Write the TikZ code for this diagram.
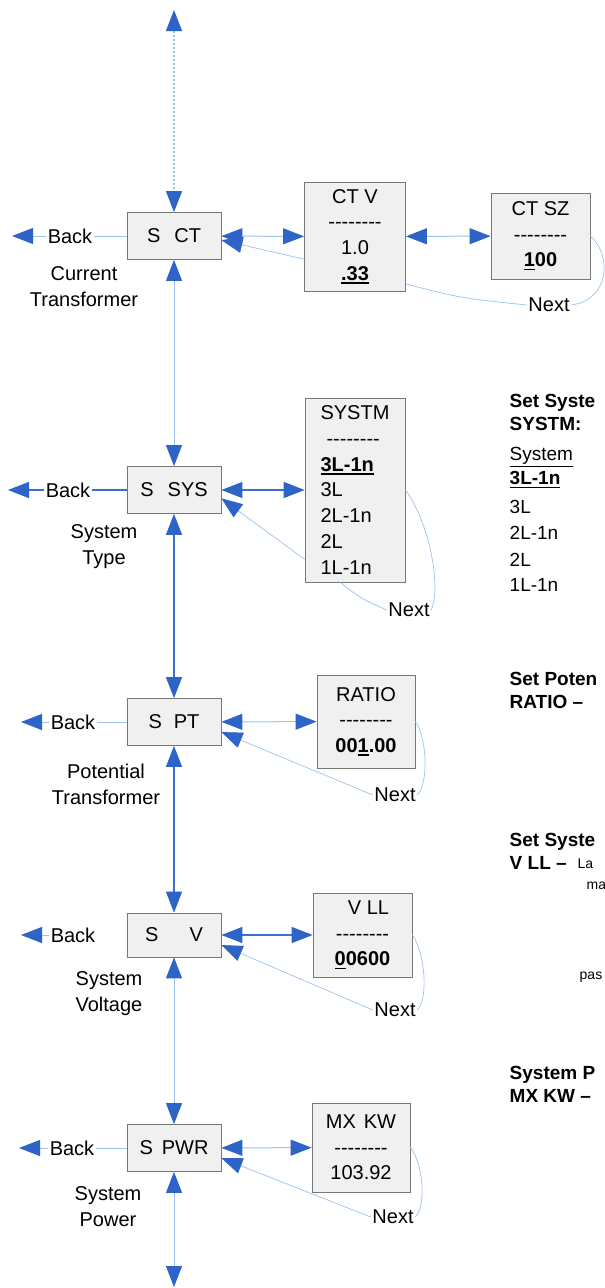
\documentclass[tikz,border=0pt]{standalone}
\usepackage{fontspec}
\setmainfont{Liberation Sans}
\usetikzlibrary{arrows.meta}
\definecolor{headblue}{HTML}{2E64C8}
\definecolor{lightblue}{HTML}{9CC2EE}
\definecolor{darkblue}{HTML}{3A6ED0}
\definecolor{boxline}{HTML}{777777}
\definecolor{boxfill}{HTML}{F0F0F0}
\newcommand{\dashrow}{-\kern0pt-\kern0pt-\kern0pt-\kern0pt-\kern0pt-\kern0pt-\kern0pt-}
\newcommand{\undl}[1]{\setbox0=\hbox{#1}\rlap{\rule[-3.4pt]{\wd0}{1.5pt}}\box0\relax}

\begin{document}
\begin{tikzpicture}[x=1pt,y=-1pt,>={Triangle[length=21pt,width=16pt,color=headblue]},
    every node/.style={font=\fontsize{20}{25.7}\selectfont,inner sep=1.5pt},
    menu/.style={draw=boxline,fill=boxfill,line width=0.8pt,minimum width=94pt,minimum height=47pt},
    val/.style={draw=boxline,fill=boxfill,line width=0.8pt,align=center},
    lbl/.style={align=center},
    rtext/.style={anchor=west,font=\fontsize{19}{22}\selectfont},
    smalltext/.style={anchor=west,font=\fontsize{14}{16}\selectfont},
    link/.style={lightblue,line width=1pt},
    dlink/.style={darkblue,line width=1.3pt},
    nextline/.style={lightblue,line width=0.7pt}]
    \path[fill=white,use as bounding box] (0,0) rectangle (605,1288);

    \node[menu] (sct) at (174,236) {S\hspace{14pt}CT};
    \node[menu] (ssys) at (174,490) {S\hspace{14pt}SYS};
    \node[menu] (spt) at (174,722) {S\hspace{12pt}PT};
    \node[menu,minimum height=44pt] (sv) at (174,935) {S\hspace{31pt}V};
    \node[menu] (spwr) at (174,1148) {S\hspace{9pt}PWR};

    \node[val,minimum width=101pt,minimum height=109pt] (ctv) at (355,236.5) {CT V\\\dashrow\\1.0\\\textbf{\undl{.33}}};
    \node[val,minimum width=99pt,minimum height=86pt] (ctsz) at (540.5,236) {CT SZ\\\dashrow\\\textbf{\undl{1}00}};
    \node[val,align=left,minimum width=100pt,minimum height=184pt] (systm) at (355,490) {SYSTM\\\hspace{6pt}\dashrow\\\textbf{\undl{3L-1n}}\\3L\\2L-1n\\2L\\1L-1n};
    \node[val,minimum width=98pt,minimum height=93pt] (ratio) at (366,721.5) {RATIO\\\dashrow\\\textbf{00\undl{1}.00}};
    \node[val,minimum width=99pt,minimum height=84pt] (vll) at (362.5,935) {\hspace{12pt}V LL\\\dashrow\\\textbf{\undl{0}0600}};
    \node[val,minimum width=98pt,minimum height=89pt] (mxkw) at (361,1147.5) {MX\hspace{8pt}KW\\\dashrow\\103.92};

    \node (bct) at (70,236) {Back};
    \node (bsys) at (68,490) {Back};
    \node (bpt) at (73,722) {Back};
    \node (bv) at (73,935) {Back};
    \node (bpwr) at (72,1148) {Back};
    \coordinate (tct) at (12,236);
    \coordinate (tsys) at (8,490);
    \coordinate (tpt) at (21,722);
    \coordinate (tv) at (21,935);
    \coordinate (tpwr) at (19,1148);

    \node[lbl] (lct) at (84,286.5) {Current\\Transformer};
    \node[lbl] (lsys) at (104,546.5) {System\\Type};
    \node[lbl] (lpt) at (106,784.5) {Potential\\Transformer};
    \node[lbl] (lv) at (109,993.5) {System\\Voltage};
    \node[lbl] (lpwr) at (108,1206.5) {System\\Power};

    \node (n1) at (549,305) {Next};
    \node (n2) at (409,610) {Next};
    \node (n3) at (395,795) {Next};
    \node (n4) at (395,1010) {Next};
    \node (n5) at (393,1217) {Next};

    \coordinate (top) at (174,10);
    \coordinate (bot) at (174,1287);
    \draw[link,line width=1.2pt,dash pattern=on 2pt off 2pt,<->] (top) -- (sct);
    \draw[link,<->] (sct) -- (ssys);
    \draw[dlink,<->] (ssys) -- (spt);
    \draw[dlink,<->] (spt) -- (sv);
    \draw[link,<->] (sv) -- (spwr);
    \draw[link,<->] (spwr) -- (bot);

    \draw[link,<->] (sct) -- (ctv);
    \draw[link,<->] (ctv) -- (ctsz);
    \draw[dlink,<->] (ssys) -- (systm);
    \draw[link,<->] (spt) -- (ratio);
    \draw[dlink,<->] (sv) -- (vll);
    \draw[link,<->] (spwr) -- (mxkw);

    \draw[link] (sct) -- (bct);
    \draw[link,->] (bct) -- (tct);
    \draw[dlink] (ssys) -- (bsys);
    \draw[dlink,->] (bsys) -- (tsys);
    \draw[link] (spt) -- (bpt);
    \draw[link,->] (bpt) -- (tpt);
    \draw[link,->] (bv) -- (tv);
    \draw[link] (spwr) -- (bpwr);
    \draw[link,->] (bpwr) -- (tpwr);

    \draw[nextline] (ctsz.east) .. controls (612,255) and (610,300) .. (n1.east);
    \draw[nextline] (ctv.-43) .. controls (460,298) .. (n1.west);
    \draw[nextline,->] (ctv.204) -- (sct.-5);
    \draw[nextline] (systm.east) .. controls (428,520) and (442,585) .. (n2.east);
    \draw[nextline] (systm.-99) .. controls (360,598) .. (n2.west);
    \draw[nextline,->] (systm.234) -- (ssys.-10);
    \draw[nextline] (ratio.east) .. controls (428,740) and (428,785) .. (n3.east);
    \draw[nextline,->] (n3.west) -- (spt.-12);
    \draw[nextline] (vll.east) .. controls (426,955) and (428,1000) .. (n4.east);
    \draw[nextline,->] (n4.west) -- (sv.-12);
    \draw[nextline] (mxkw.east) .. controls (424,1165) and (426,1207) .. (n5.east);
    \draw[nextline,->] (n5.west) -- (spwr.-12);

    \node[rtext] (r1) at (508,403) {\textbf{Set Syste}};
    \node[rtext] (r2) at (508,424) {\textbf{SYSTM:}};
    \node[rtext] (r3) at (508,457) {\underline{System}};
    \node[rtext] (r4) at (508,480) {\textbf{\undl{3L-1n}}};
    \node[rtext] (r5) at (508,507) {3L};
    \node[rtext] (r6) at (508,533) {2L-1n};
    \node[rtext] (r7) at (508,560) {2L};
    \node[rtext] (r8) at (508,585) {1L-1n};
    \node[rtext] (r9) at (508,679) {\textbf{Set Poten}};
    \node[rtext] (r10) at (508,702) {\textbf{RATIO –}};
    \node[rtext] (r11) at (508,842) {\textbf{Set Syste}};
    \node[rtext] (r12) at (508,863) {\textbf{V LL –}};
    \node[smalltext] (s1) at (576,864) {La};
    \node[smalltext] (s2) at (585,886) {ma};
    \node[smalltext] (s3) at (578,977) {pas};
    \node[rtext] (r13) at (508,1075) {\textbf{System P}};
    \node[rtext] (r14) at (508,1096) {\textbf{MX KW –}};
\end{tikzpicture}
\end{document}
